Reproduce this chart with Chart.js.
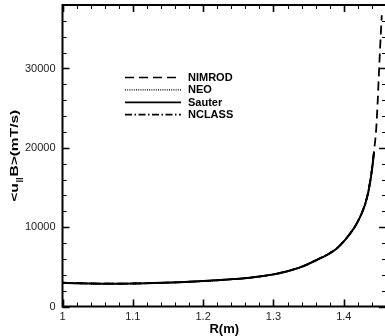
<html>
<head>
<meta charset="UTF-8">
<title>parallel flow comparison</title>
<script src="https://cdn.jsdelivr.net/npm/chart.js"></script>
<style>
    body { margin: 0; background: #fff; overflow: hidden; }
    #box { width: 388px; height: 336px; }
</style>
</head>
<body>
<div id="box"><canvas id="myChart"></canvas></div>
<script>
// major radius (m) where the models are sampled
const rProfile = [1.00, 1.02, 1.04, 1.06, 1.08, 1.10, 1.12, 1.14, 1.16, 1.18, 1.20, 1.22, 1.24, 1.26,
    1.28, 1.30, 1.32, 1.34, 1.36, 1.38, 1.39, 1.40, 1.41, 1.42, 1.43, 1.435, 1.44, 1.443];
// NIMROD goes further out to the edge
const rNimrodTail = [1.446, 1.448, 1.450, 1.452, 1.454];

// <u||B> in mT/s
const nimrod = [3000, 2940, 2900, 2880, 2880, 2900, 2940, 2990, 3050, 3120, 3210, 3310, 3440, 3580,
    3780, 4060, 4460, 5020, 5820, 6720, 7330, 8230, 9350, 10750, 12850, 14600, 17300, 19600];
const nimrodTail = [22300, 25500, 29500, 33300, 36700];
const neo = [2960, 2910, 2880, 2860, 2860, 2880, 2920, 2970, 3030, 3100, 3190, 3300, 3420, 3560,
    3760, 4030, 4430, 4980, 5780, 6680, 7280, 8180, 9280, 10680, 12750, 14450, 17150, 19450];
const sauter = [2980, 2930, 2890, 2870, 2870, 2890, 2930, 2980, 3040, 3110, 3200, 3310, 3430, 3570,
    3770, 4050, 4450, 5000, 5800, 6700, 7300, 8200, 9300, 10700, 12800, 14500, 17200, 19500];
const nclass = [2990, 2940, 2900, 2880, 2880, 2900, 2940, 2990, 3050, 3120, 3210, 3320, 3440, 3580,
    3780, 4060, 4470, 5030, 5830, 6730, 7330, 8240, 9330, 10730, 12850, 14550, 17250, 19550];

const seriesNames = ['NIMROD', 'NEO', 'Sauter', 'NCLASS'];
const seriesDash = [[9, 5], [1, 1.2], [], [7, 2.5, 1.5, 2.5]];

const xTicks = [1, 1.1, 1.2, 1.3, 1.4];
const yTicks = [0, 10000, 20000, 30000];
const xMinorStep = 0.02;
const yMinorStep = 2000;

const pts = (xs, ys) => xs.map((x, i) => ({ x: x, y: ys[i] }));

const FONT = "'Liberation Sans', Arial, sans-serif";

function makeSet(i, points, width) {
    return {
        label: seriesNames[i],
        data: points,
        borderColor: '#000',
        borderWidth: width,
        borderDash: seriesDash[i],
        pointRadius: 0,
        fill: false,
        cubicInterpolationMode: 'monotone'
    };
}

const data = {
    datasets: [
        makeSet(0, pts(rProfile.concat(rNimrodTail), nimrod.concat(nimrodTail)), 1.8),
        makeSet(1, pts(rProfile, neo), 1.6),
        makeSet(2, pts(rProfile, sauter), 2),
        makeSet(3, pts(rProfile, nclass), 1.6)
    ]
};

// frame, inward ticks, legend and the y title with its subscript
const decor = {
    id: 'decor',
    afterDraw(chart) {
        const ctx = chart.ctx;
        const a = chart.chartArea;
        const xs = chart.scales.x, ys = chart.scales.y;
        ctx.save();
        ctx.strokeStyle = '#000';

        // minor + major ticks pointing into the plot
        for (let v = xs.min; v <= xs.max + 1e-9; v += xMinorStep) {
            const major = xTicks.some(t => Math.abs(t - v) < 1e-6);
            const px = Math.round(xs.getPixelForValue(v)) + 0.5;
            const len = major ? 7 : 4;
            ctx.lineWidth = major ? 1.6 : 1;
            ctx.beginPath();
            ctx.moveTo(px, a.bottom); ctx.lineTo(px, a.bottom - len);
            ctx.moveTo(px, a.top); ctx.lineTo(px, a.top + len);
            ctx.stroke();
        }
        for (let v = ys.min; v <= ys.max + 1e-6; v += yMinorStep) {
            const major = yTicks.includes(v);
            const py = Math.round(ys.getPixelForValue(v)) + 0.5;
            const len = major ? 7 : 4;
            ctx.lineWidth = major ? 1.6 : 1;
            ctx.beginPath();
            ctx.moveTo(a.left, py); ctx.lineTo(a.left + len, py);
            ctx.moveTo(a.right, py); ctx.lineTo(a.right - len, py);
            ctx.stroke();
        }

        ctx.lineWidth = 2;
        ctx.strokeRect(a.left, a.top, a.right - a.left, a.bottom - a.top);

        // legend
        ctx.font = 'bold 11px ' + FONT;
        ctx.textBaseline = 'middle';
        ctx.fillStyle = '#000';
        seriesNames.forEach((name, i) => {
            const y = 77.5 + i * 12.4;
            ctx.setLineDash(seriesDash[i]);
            ctx.lineWidth = i === 1 ? 1.2 : 1.7;
            ctx.beginPath();
            ctx.moveTo(125, y); ctx.lineTo(181, y);
            ctx.stroke();
            ctx.setLineDash([]);
            ctx.fillText(name, 188, y + 0.5);
        });

        // y title: <u||B>(mT/s) with the || lowered
        const cy = (a.top + a.bottom) / 2;
        ctx.translate(18, cy);
        ctx.rotate(-Math.PI / 2);
        ctx.scale(1.35, 1);
        const big = 'bold 11.5px ' + FONT, small = 'bold 7px ' + FONT;
        ctx.font = big;
        const w1 = ctx.measureText('<u').width;
        const w3 = ctx.measureText('B>(mT/s)').width;
        ctx.font = small;
        const w2 = ctx.measureText('||').width + 1;
        let x = -(w1 + w2 + w3) / 2;
        ctx.textBaseline = 'alphabetic';
        ctx.textAlign = 'left';
        ctx.font = big;
        ctx.fillText('<u', x, 0);
        x += w1;
        ctx.font = small;
        ctx.fillText('||', x + 0.5, 3);
        x += w2;
        ctx.font = big;
        ctx.fillText('B>(mT/s)', x, 0);
        ctx.restore();
    }
};

const config = {
    type: 'line',
    data: data,
    options: {
        responsive: true,
        maintainAspectRatio: false,
        animation: false,
        layout: { padding: { left: 0, top: 5, right: 2, bottom: 0 } },
        plugins: {
            legend: { display: false },
            tooltip: { enabled: false }
        },
        scales: {
            x: {
                type: 'linear',
                min: 1,
                max: 1.46,
                afterBuildTicks: s => { s.ticks = xTicks.map(v => ({ value: v })); },
                afterFit: s => { s.height = 29.5; s.paddingLeft = 0; s.paddingRight = 0; },
                grid: { display: false, drawTicks: false },
                border: { display: false },
                ticks: {
                    padding: 4,
                    color: '#222',
                    font: { family: FONT, size: 11 },
                    maxRotation: 0,
                    callback: v => String(Math.round(v * 10) / 10)
                },
                title: {
                    display: true,
                    text: 'R(m)',
                    color: '#000',
                    font: { family: FONT, size: 13, weight: 'bold', lineHeight: 1 },
                    padding: { top: 0, bottom: 0 }
                }
            },
            y: {
                type: 'linear',
                min: 0,
                max: 38000,
                afterBuildTicks: s => { s.ticks = yTicks.map(v => ({ value: v })); },
                afterFit: s => { s.width = 62.5; s.paddingTop = 0; s.paddingBottom = 0; },
                grid: { display: false, drawTicks: false },
                border: { display: false },
                ticks: {
                    padding: 7,
                    color: '#222',
                    font: { family: FONT, size: 11 },
                    callback: v => String(v)
                }
            }
        }
    },
    plugins: [decor]
};

var myChart = new Chart(document.getElementById('myChart'), config);
</script>
</body>
</html>
